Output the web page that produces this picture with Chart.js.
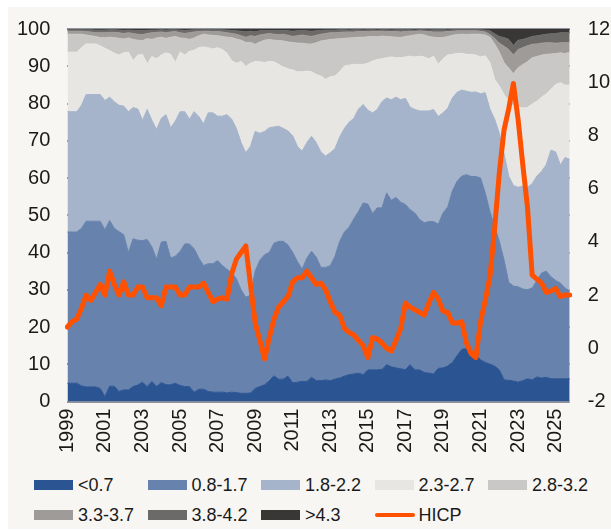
<!DOCTYPE html>
<html>
<head>
<meta charset="utf-8">
<script src="https://cdn.jsdelivr.net/npm/chart.js@4.4.1/dist/chart.umd.min.js"></script>
<style>
  html, body { margin:0; padding:0; background:#fff; overflow:hidden; width:611px; height:531px; }
  #panel { position:absolute; left:8px; top:7px; width:640px; height:522px; background:#f7f6f2; }
  #wrap { position:absolute; left:-18px; top:-8px; }
  #legend { position:absolute; left:26px; top:463px; display:grid; grid-template-columns:repeat(5, 113.5px); grid-auto-rows:30px;
            font:18px 'Liberation Sans', Arial, sans-serif; color:#1a1a1a; }
  .item { display:flex; align-items:center; white-space:nowrap; }
  .swatch { width:39px; height:10px; margin-right:5px; }
  .swatch.line { width:40px; height:4px; border-radius:2px; margin-right:4px; }
</style>
</head>
<body>
<div id="panel">
  <div id="wrap"><canvas id="chart" width="659" height="470"></canvas></div>
  <div id="legend"></div>
</div>
<script>
// quarterly, 1999Q1 - 2025Q4
const quarters = []
for (let y = 1999; y <= 2025; y++) {
    for (let q = 1; q <= 4; q++) quarters.push(y + 'Q' + q)
}
const yearTicks = ['1999','2001','2003','2005','2007','2009','2011','2013','2015','2017','2019','2021','2023','2025']

const bandLabels = ['<0.7','0.8-1.7','1.8-2.2','2.3-2.7','2.8-3.2','3.3-3.7','3.8-4.2','>4.3']
const bandColors = ['#2b5493','#6783ad','#a5b4cb','#e7e6e3','#c9c8c6','#9e9b99','#6b6a68','#383735']
const hicpColor = '#ff5100'

// cumulative share (%) of respondents up to the top of each band
const cumLt07 = [
    4.9, 4.9, 4.9, 4.2,   3.9, 3.9, 3.9, 3.5,   1.3, 4.1, 4.1, 2.7,   3.1, 3.1, 4.0, 4.4,
    5.2, 4.0, 5.4, 4.0,   5.1, 4.5, 4.5, 4.9,   4.3, 4.0, 4.0, 2.5,   3.3, 3.3, 2.7, 2.5,
    2.5, 2.5, 2.3, 2.5,   2.4, 2.2, 2.2, 2.3,   3.5, 4.0, 4.5, 5.5,   6.9, 6.0, 6.0, 6.8,
    5.0, 5.2, 5.4, 5.4,   6.5, 5.6, 5.6, 5.8,   5.6, 6.0, 6.3, 6.8,   7.2, 7.4, 7.6, 7.2,
    8.5, 8.5, 8.5, 8.6,   9.9, 9.3, 9.0, 8.8,   8.5, 9.9, 8.5, 8.5,   7.8, 7.6, 7.4, 8.9,
    9.0, 9.5, 10.5, 12.3, 14.0, 14.2, 13.6, 12.5, 11.2, 10.5, 10.0, 9.5, 8.5, 5.8, 5.7, 5.5,
    5.2, 5.6, 6.1, 5.8,   6.6, 6.3, 6.5, 6.1,   6.1, 6.1, 6.1, 6.1
]
const cum08to17 = [
    45.5, 45.5, 45.5, 46.5, 48.4, 48.4, 48.4, 48.4, 46.1, 48.6, 46.5, 45.6, 44.8, 40.0, 43.7, 43.3,
    43.2, 43.5, 41.5, 38.2, 42.8, 43.0, 38.5, 39.0, 40.3, 42.3, 42.3, 41.0, 38.5, 36.5, 37.0, 37.0,
    37.8, 36.5, 35.5, 34.5, 33.0, 30.0, 28.0, 28.5, 35.0, 38.0, 39.4, 40.0, 42.5, 43.0, 43.0, 42.0,
    40.0, 37.6, 35.5, 38.5, 40.3, 38.8, 36.0, 36.0, 36.5, 39.0, 43.0, 45.5, 46.8, 49.0, 51.0, 53.3,
    53.0, 50.5, 52.0, 52.0, 56.0, 54.0, 54.8, 53.5, 52.9, 51.5, 50.6, 48.9, 48.0, 48.3, 48.3, 47.6,
    50.6, 52.2, 56.5, 59.1, 60.5, 60.9, 60.4, 60.4, 60.0, 56.0, 51.0, 47.0, 43.0, 38.0, 32.0, 31.0,
    30.8, 30.2, 30.0, 30.5, 32.5, 34.5, 35.0, 33.5, 32.5, 31.8, 30.5, 29.6
]
const cum18to22 = [
    77.8, 77.8, 77.8, 79.5, 82.4, 82.4, 82.4, 82.4, 80.8, 81.7, 80.5, 79.5, 79.3, 77.8, 78.9, 78.5,
    75.5, 78.4, 75.5, 73.0, 76.0, 77.0, 73.5, 75.3, 77.8, 77.8, 75.8, 77.8, 76.5, 74.5, 77.5, 77.5,
    76.6, 76.6, 77.0, 75.8, 73.3, 69.5, 66.8, 68.5, 72.5, 72.0, 72.5, 73.5, 73.7, 73.9, 73.3, 72.6,
    71.3, 68.5, 67.2, 69.5, 71.2, 69.5, 67.0, 65.9, 66.8, 67.9, 71.0, 73.3, 75.0, 76.0, 78.5, 79.7,
    78.2, 77.5, 78.4, 80.5, 81.5, 81.0, 81.7, 81.0, 81.4, 79.0, 78.4, 78.0, 78.0, 78.0, 78.4, 76.5,
    77.5, 78.7, 81.5, 83.0, 83.6, 83.3, 83.0, 83.1, 82.6, 82.9, 78.5, 75.8, 72.0, 66.5, 60.5, 58.0,
    57.5, 57.8, 57.5, 58.5, 60.5, 61.8, 63.6, 67.5, 67.0, 63.5, 65.5, 65.0
]
const cum23to27 = [
    93.8, 93.8, 93.8, 95.0, 96.0, 96.0, 96.0, 95.5, 94.8, 94.2, 93.5, 93.0, 93.6, 93.8, 91.5, 93.0,
    93.2, 90.6, 92.6, 92.0, 93.0, 93.6, 93.2, 91.0, 93.8, 93.0, 94.0, 94.3, 95.0, 95.2, 95.0, 94.6,
    95.0, 94.5, 93.5, 91.5, 90.8, 91.3, 90.0, 90.8, 91.3, 91.2, 91.0, 91.3, 91.2, 90.5, 89.8, 89.3,
    89.0, 88.5, 88.5, 88.7, 88.5, 87.8, 87.4, 86.5, 87.2, 87.4, 88.5, 90.1, 90.3, 90.5, 90.5, 90.5,
    90.8, 91.4, 91.8, 92.0, 92.3, 92.5, 92.3, 92.3, 92.5, 92.7, 92.5, 92.7, 92.5, 92.0, 92.7, 90.5,
    92.0, 93.0, 93.2, 93.4, 93.5, 93.2, 93.2, 93.0, 92.5, 92.8, 91.0, 86.5, 84.7, 82.4, 80.6, 79.3,
    79.0, 78.8, 78.9, 79.9, 80.6, 81.7, 82.6, 83.8, 85.1, 85.6, 84.9, 85.0
]
const cum28to32 = [
    98.6, 98.6, 98.6, 98.6, 98.4, 98.2, 98.0, 97.7, 97.7, 97.8, 97.7, 97.5, 97.3, 97.6, 97.2, 97.0,
    96.9, 97.4, 97.2, 97.6, 97.8, 97.5, 97.8, 98.0, 97.6, 97.5, 97.2, 97.6, 98.2, 98.6, 98.4, 98.3,
    98.2, 98.0, 97.8, 97.7, 97.3, 97.0, 96.4, 96.4, 95.9, 96.5, 97.0, 97.2, 97.0, 96.9, 96.8, 96.5,
    96.4, 96.2, 96.2, 96.0, 96.0, 96.3, 96.8, 97.0, 97.2, 97.3, 97.4, 97.5, 97.6, 97.7, 97.8, 97.8,
    97.9, 98.0, 97.9, 98.1, 98.0, 97.9, 97.8, 97.7, 98.0, 98.2, 98.4, 98.6, 98.4, 98.0, 97.8, 97.7,
    97.7, 98.0, 98.3, 98.5, 98.6, 98.5, 98.6, 98.6, 98.6, 98.4, 97.8, 96.0, 93.8, 91.0, 89.5, 88.0,
    89.6, 90.5, 91.2, 92.3, 92.6, 93.0, 93.2, 93.3, 93.4, 93.6, 93.4, 93.8
]
const cum33to37 = [
    99.4, 99.4, 99.4, 99.4, 99.3, 99.2, 99.0, 99.0, 99.0, 99.1, 99.1, 99.0, 98.8, 99.0, 98.8, 98.6,
    98.5, 98.8, 99.0, 99.1, 99.2, 99.0, 99.2, 99.3, 99.0, 98.8, 99.0, 99.2, 99.3, 99.4, 99.4, 99.3,
    99.3, 99.2, 99.0, 98.8, 98.6, 98.2, 97.8, 98.2, 98.0, 98.4, 98.6, 98.8, 98.6, 98.5, 98.6, 98.3,
    98.0, 98.2, 98.4, 98.2, 98.0, 98.3, 98.6, 98.8, 99.0, 99.0, 99.1, 99.2, 99.2, 99.2, 99.3, 99.3,
    99.3, 99.4, 99.4, 99.4, 99.3, 99.3, 99.3, 99.2, 99.3, 99.4, 99.4, 99.5, 99.4, 99.3, 99.2, 99.2,
    99.2, 99.3, 99.4, 99.5, 99.5, 99.5, 99.5, 99.5, 99.4, 99.2, 98.5, 97.5, 96.2, 95.4, 94.5, 93.0,
    94.5, 95.0, 95.5, 95.9, 96.0, 96.2, 96.3, 96.3, 96.2, 96.3, 96.3, 96.5
]
const cum38to42 = [
    99.8, 99.8, 99.8, 99.8, 99.8, 99.8, 99.7, 99.7, 99.7, 99.8, 99.8, 99.7, 99.6, 99.7, 99.6, 99.6,
    99.5, 99.6, 99.7, 99.7, 99.8, 99.7, 99.8, 99.8, 99.7, 99.6, 99.7, 99.8, 99.8, 99.8, 99.8, 99.8,
    99.8, 99.8, 99.7, 99.6, 99.5, 99.4, 99.3, 99.4, 99.3, 99.5, 99.6, 99.6, 99.6, 99.5, 99.6, 99.5,
    99.4, 99.5, 99.6, 99.5, 99.4, 99.5, 99.6, 99.7, 99.7, 99.7, 99.8, 99.8, 99.7, 99.8, 99.8, 99.7,
    99.8, 99.8, 99.7, 99.8, 99.8, 99.7, 99.8, 99.8, 99.8, 99.8, 99.7, 99.8, 99.8, 99.7, 99.8, 99.8,
    99.8, 99.7, 99.8, 99.8, 99.8, 99.8, 99.8, 99.8, 99.8, 99.7, 99.5, 98.7, 98.0, 97.7, 97.2, 95.6,
    97.0, 97.2, 97.6, 98.0, 98.2, 98.4, 98.6, 98.7, 98.8, 99.0, 99.0, 99.0
]
const shareTotal = 100

// HICP, annual % change (right axis)
const hicp = [
    0.8, 1.0, 1.1, 1.5,   2.0, 1.8, 2.1, 2.4,   2.0, 2.9, 2.4, 2.0,   2.5, 2.0, 2.0, 2.3,
    2.3, 1.9, 1.9, 1.9,   1.6, 2.3, 2.3, 2.3,   2.0, 2.0, 2.3, 2.3,   2.3, 2.45, 2.1, 1.75,
    1.85, 1.9, 1.85, 2.8, 3.35, 3.6, 3.85, 2.4, 0.95, 0.3, -0.4, 0.4, 1.1, 1.55, 1.75, 1.95,
    2.5, 2.65, 2.65, 2.9, 2.65, 2.4, 2.45, 2.2, 1.75, 1.35, 1.25, 0.75, 0.6, 0.5, 0.3, 0.1,
    -0.35, 0.4, 0.35, 0.2, 0.0, -0.1, 0.3, 0.75, 1.7, 1.55, 1.45, 1.35, 1.25, 1.7, 2.1, 1.85,
    1.4, 1.35, 0.95, 0.95, 1.0, 0.2, -0.2, -0.35, 1.0, 1.8, 2.7, 4.5,  6.6, 8.2, 9.0, 9.95,
    8.6, 6.9, 5.3, 2.75,  2.6, 2.45, 2.1, 2.15, 2.25, 1.95, 2.0, 2.0
]

const textColor = '#1a1a1a'
Chart.defaults.font.family = "'Liberation Sans', Arial, sans-serif"
Chart.defaults.color = textColor

const bandData = [cumLt07, cum08to17, cum18to22, cum23to27, cum28to32, cum33to37, cum38to42,
                  quarters.map(() => shareTotal)]
const datasets = bandData.map((d, i) => ({
    label: bandLabels[i],
    data: d,
    yAxisID: 'y',
    backgroundColor: bandColors[i],
    borderColor: bandColors[i],
    borderWidth: 1,
    pointRadius: 0,
    tension: 0,
    fill: i === 0 ? 'origin' : '-1',
    order: 1
}))
datasets.push({
    label: 'HICP',
    data: hicp,
    yAxisID: 'y1',
    borderColor: hicpColor,
    backgroundColor: hicpColor,
    borderWidth: 5,
    borderJoinStyle: 'round',
    borderCapStyle: 'round',
    pointRadius: 0,
    tension: 0,
    fill: false,
    order: 0
})

const ctx = document.getElementById('chart').getContext('2d')
const chart = new Chart(ctx, {
    type: 'line',
    data: { labels: quarters, datasets: datasets },
    options: {
        responsive: false,
        animation: false,
        layout: { padding: { left: 10, right: 21, top: 3, bottom: 9 } },
        plugins: { legend: { display: false }, tooltip: { enabled: false } },
        scales: {
            x: {
                grid: { display: false, drawTicks: false },
                border: { display: false },
                ticks: {
                    autoSkip: false, maxRotation: 90, minRotation: 90, padding: 7,
                    font: { size: 20 },
                    callback: function (v, i) {
                        const lab = quarters[i]
                        const yr = lab.slice(0, 4)
                        return (lab.endsWith('Q1') && yearTicks.includes(yr)) ? yr : null
                    }
                }
            },
            y: {
                min: 0, max: 100,
                z: 1,
                grid: { color: 'rgba(40,50,75,0.5)', lineWidth: 2, drawTicks: false },
                border: { display: false },
                ticks: { stepSize: 10, padding: 17, font: { size: 20 } }
            },
            y1: {
                position: 'right',
                min: -2, max: 12,
                grid: { display: false, drawTicks: false },
                border: { display: false },
                ticks: { stepSize: 2, padding: 18, font: { size: 20 } }
            }
        }
    }
})

// legend laid out as a fixed grid
const legendBox = document.getElementById('legend')
chart.data.datasets.forEach((ds) => {
    const isLine = ds.label === 'HICP'
    legendBox.innerHTML += `<div class="item"><span class="swatch${isLine ? ' line' : ''}" style="background:${isLine ? ds.borderColor : ds.backgroundColor}"></span><span>${ds.label.replace('<', '&lt;').replace('>', '&gt;')}</span></div>`
})
</script>
</body>
</html>
